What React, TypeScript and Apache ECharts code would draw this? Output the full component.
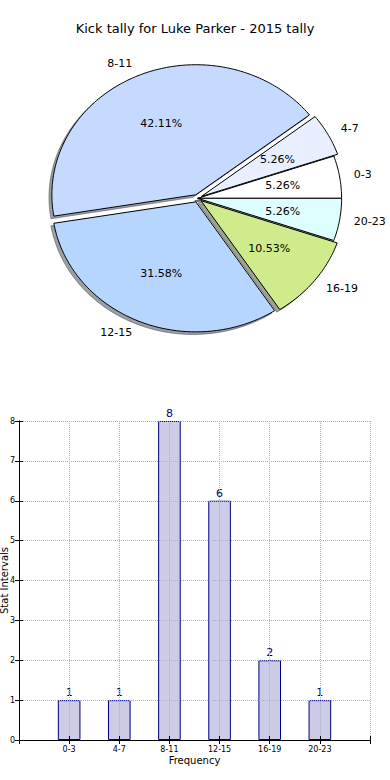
import React, { useEffect, useRef } from 'react';
import * as echarts from 'echarts';

const titleText = 'Kick tally for Luke Parker - 2015 tally';
const categories = ['0-3', '4-7', '8-11', '12-15', '16-19', '20-23'];
const counts = [1, 1, 8, 6, 2, 1];
const sliceColors = ['#FFFFFF', '#E9EFFF', '#C6DAFF', '#B6D5FF', '#D0EB8B', '#DDFFFF'];
const explode = [0, 0.03, 0.03, 0.03, 0.03, 0];
const barPositions = [1, 2, 3, 4, 5, 6];
const xAxisName = 'Frequency';
const yAxisName = 'Stat Intervals';

const FONT = 'DejaVu Sans';

function hexToRgb(h: string) {
  const n = parseInt(h.slice(1), 16);
  return [(n >> 16) & 255, (n >> 8) & 255, n & 255];
}

export default function App() {
  const ref = useRef<HTMLDivElement>(null);
  useEffect(() => {
    if (!ref.current) return;
    const chart = echarts.init(ref.current, undefined, { renderer: 'svg' });
    const total = counts.reduce((a, b) => a + b, 0);
    const starts: number[] = [];
    let acc = 0;
    counts.forEach((v) => {
      starts.push((acc / total) * 360);
      acc += v;
    });

    const wedge = (api: any, i: number, dx: number, dy: number) => {
      const t1 = starts[i];
      const t2 = t1 + (counts[i] / total) * 360;
      const mid = ((t1 + t2) / 2) * Math.PI / 180;
      const ox = explode[i] * Math.cos(mid) + dx;
      const oy = explode[i] * Math.sin(mid) + dy;
      const pts: number[][] = [api.coord([ox, oy])];
      const n = Math.max(4, Math.ceil(t2 - t1));
      for (let k = 0; k <= n; k++) {
        const a = (t1 + ((t2 - t1) * k) / n) * Math.PI / 180;
        pts.push(api.coord([ox + Math.cos(a), oy + Math.sin(a)]));
      }
      return { pts, ox, oy, mid };
    };

    const pieData = counts.map((v, i) => [i, v]);

    const option: any = {
      animation: false,
      title: {
        text: titleText,
        left: 'center',
        top: 17,
        textStyle: { fontSize: 13, fontWeight: 'normal', color: '#000', fontFamily: FONT },
      },
      grid: [
        { left: 17.6, top: 42.3, width: 360, height: 312, show: false, containLabel: false, outerBoundsMode: 'none' },
        { left: 19, top: 421, width: 351, height: 319, containLabel: false, outerBoundsMode: 'none' },
      ],
      xAxis: [
        { gridIndex: 0, type: 'value', min: -1.25, max: 1.25, show: false },
        {
          gridIndex: 1, type: 'value', min: 0, max: 7, interval: 1, z: 5,
          name: xAxisName, nameLocation: 'middle', nameGap: 15, nameMoveOverlap: false,
          nameTextStyle: { fontSize: 10, color: '#000', fontFamily: FONT },
          axisLine: { show: true, lineStyle: { color: '#000', width: 1 } },
          axisTick: { show: true, inside: true, length: 4, lineStyle: { color: '#000' } },
          axisLabel: {
            fontSize: 8, color: '#000', fontFamily: FONT, margin: 5,
            showMinLabel: true, showMaxLabel: true,
            formatter: (v: number) => {
              const idx = barPositions.indexOf(v);
              return idx >= 0 ? categories[idx] : '';
            },
          },
          splitLine: { show: true, lineStyle: { color: '#b0b0b0', type: 'dotted', width: 1 } },
        },
        {
          gridIndex: 1, type: 'value', min: 0, max: 7, interval: 1, position: 'top', z: 5,
          axisLine: { show: true, lineStyle: { color: '#000', width: 1 } },
          axisTick: { show: true, inside: true, length: 4, lineStyle: { color: '#000' } },
          axisLabel: { show: false },
          splitLine: { show: false },
        },
      ],
      yAxis: [
        { gridIndex: 0, type: 'value', min: -1.2, max: 1.2, show: false },
        {
          gridIndex: 1, type: 'value', min: 0, max: 8, interval: 1, z: 5,
          name: yAxisName, nameLocation: 'middle', nameGap: 10, nameMoveOverlap: false,
          nameTextStyle: { fontSize: 10, color: '#000', fontFamily: FONT },
          axisLine: { show: true, lineStyle: { color: '#000', width: 1 } },
          axisTick: { show: true, inside: true, length: 4, lineStyle: { color: '#000' } },
          axisLabel: { fontSize: 8, color: '#000', fontFamily: FONT, margin: 4 },
          splitLine: { show: true, lineStyle: { color: '#b0b0b0', type: 'dotted', width: 1 } },
        },
        {
          gridIndex: 1, type: 'value', min: 0, max: 8, interval: 1, position: 'right', z: 5,
          axisLine: { show: true, lineStyle: { color: '#000', width: 1 } },
          axisTick: { show: true, inside: true, length: 4, lineStyle: { color: '#000' } },
          axisLabel: { show: false },
          splitLine: { show: false },
        },
      ],
      series: [
        {
          type: 'custom',
          xAxisIndex: 0,
          yAxisIndex: 0,
          z: 1,
          silent: true,
          data: pieData,
          renderItem: (params: any, api: any) => {
            const i = params.dataIndex;
            const { pts } = wedge(api, i, -0.02, -0.02);
            const [r, g, b] = hexToRgb(sliceColors[i]);
            const c = `rgba(${Math.round(r * 0.3)},${Math.round(g * 0.3)},${Math.round(b * 0.3)},0.5)`;
            return {
              type: 'polygon',
              shape: { points: pts },
              style: { fill: c, stroke: c, lineWidth: 1 },
            };
          },
        },
        {
          type: 'custom',
          xAxisIndex: 0,
          yAxisIndex: 0,
          z: 2,
          silent: true,
          data: pieData,
          renderItem: (params: any, api: any) => {
            const i = params.dataIndex;
            const { pts, ox, oy, mid } = wedge(api, i, 0, 0);
            const lp = api.coord([ox + 1.1 * Math.cos(mid), oy + 1.1 * Math.sin(mid)]);
            const pp = api.coord([ox + 0.6 * Math.cos(mid), oy + 0.6 * Math.sin(mid)]);
            const pct = ((counts[i] / total) * 100).toFixed(2) + '%';
            return {
              type: 'group',
              children: [
                {
                  type: 'polygon',
                  shape: { points: pts },
                  style: { fill: sliceColors[i], stroke: '#000', lineWidth: 1, lineJoin: 'miter' },
                },
                {
                  type: 'text',
                  x: lp[0],
                  y: lp[1],
                  style: {
                    text: categories[i],
                    fill: '#000',
                    fontSize: 11,
                    fontFamily: FONT,
                    align: Math.cos(mid) > 0 ? 'left' : 'right',
                    verticalAlign: 'middle',
                  },
                },
                {
                  type: 'text',
                  x: pp[0],
                  y: pp[1],
                  style: {
                    text: pct,
                    fill: '#000',
                    fontSize: 11,
                    fontFamily: FONT,
                    align: 'center',
                    verticalAlign: 'middle',
                  },
                },
              ],
            };
          },
        },
        {
          type: 'bar',
          xAxisIndex: 1,
          yAxisIndex: 1,
          barWidth: 22.6,
          data: barPositions.map((p, i) => [p, counts[i]]),
          itemStyle: { color: 'rgba(0,0,128,0.2)', borderColor: '#000080', borderWidth: 1 },
          label: {
            show: true,
            position: 'top',
            distance: 2,
            color: '#000080',
            fontSize: 11,
            fontFamily: FONT,
            formatter: (p: any) => String(p.value[1]),
          },
        },
      ],
    };
    chart.setOption(option);
    return () => chart.dispose();
  }, []);
  return (
    <div
      ref={ref}
      style={{ position: 'absolute', left: 0, top: 0, width: 390, height: 780, background: '#fff' }}
    />
  );
}
